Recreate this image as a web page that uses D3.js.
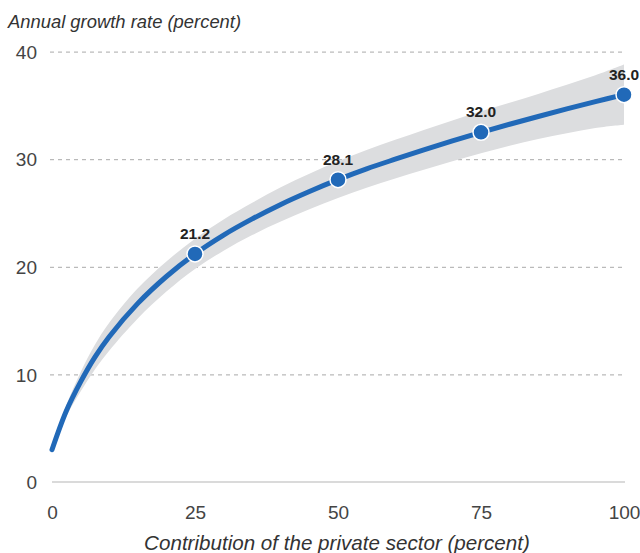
<!DOCTYPE html>
<html>
<head>
<meta charset="utf-8">
<script src="https://cdn.jsdelivr.net/npm/d3@7"></script>
<style>
  html, body { margin: 0; padding: 0; background: #fff; }
  svg { display: block; font-family: "Liberation Sans", Arial, sans-serif; }
</style>
</head>
<body>
<svg id="chart" width="640" height="553"></svg>
<script>
// ---- Data ----
const curveX     = [0, 2.5, 5, 7.5, 10, 15, 20, 25, 30, 35, 40, 45, 50, 55, 60, 65, 70, 75, 80, 85, 90, 95, 100];
const curveY     = [3.0, 6.6, 9.3, 11.6, 13.5, 16.6, 19.1, 21.2, 22.95, 24.45, 25.8, 27.0, 28.1, 29.1, 30.0, 30.87, 31.7, 32.5, 33.25, 33.97, 34.67, 35.35, 36.0];
const bandUpper  = [3.05, 7.1, 10.2, 12.75, 14.8, 18.0, 20.5, 22.6, 24.4, 25.95, 27.4, 28.65, 29.8, 30.85, 31.8, 32.72, 33.6, 34.45, 35.25, 36.07, 36.92, 37.8, 38.8];
const bandLower  = [2.95, 6.1, 8.4, 10.45, 12.2, 15.2, 17.7, 19.8, 21.5, 22.95, 24.2, 25.35, 26.4, 27.35, 28.2, 29.02, 29.8, 30.55, 31.25, 31.87, 32.42, 32.9, 33.2];
const pointX     = [25, 50, 75, 100];
const pointY     = [21.2, 28.1, 32.5, 36.0];
const pointLabel = ["21.2", "28.1", "32.0", "36.0"];
const xTicks     = [0, 25, 50, 75, 100];
const yTicks     = [0, 10, 20, 30, 40];
const yTitle     = "Annual growth rate (percent)";
const xTitle     = "Contribution of the private sector (percent)";

// ---- Layout ----
const svg = d3.select("#chart");
const x = d3.scaleLinear().domain([0, 100]).range([52, 624]);
const y = d3.scaleLinear().domain([0, 40]).range([482, 51.6]);

// Gridlines (dashed) via axis
const grid = svg.append("g")
  .attr("transform", "translate(50,0)")
  .call(d3.axisLeft(y).tickValues(yTicks.filter(d => d > 0)).tickSize(-574).tickFormat(""));
grid.select(".domain").remove();
grid.selectAll(".tick line")
  .attr("stroke", "#a9a9a9").attr("stroke-width", 1).attr("stroke-dasharray", "4,4");

// Baseline
svg.append("line")
  .attr("x1", 52).attr("x2", 625)
  .attr("y1", y(0)).attr("y2", y(0))
  .attr("stroke", "#b5b5b5").attr("stroke-width", 1.2);

// Y tick labels
const yAxis = svg.append("g")
  .attr("transform", "translate(37,0)")
  .call(d3.axisLeft(y).tickValues(yTicks).tickSize(0).tickPadding(0).tickFormat(d3.format("d")));
yAxis.select(".domain").remove();
yAxis.selectAll("text")
  .attr("font-family", "'Liberation Sans', Arial, sans-serif")
  .attr("font-size", 19).attr("fill", "#444").attr("dy", "0.35em");

// X tick labels
const xAxis = svg.append("g")
  .attr("transform", "translate(0,505)")
  .call(d3.axisBottom(x).tickValues(xTicks).tickSize(0).tickPadding(0).tickFormat(d3.format("d")));
xAxis.select(".domain").remove();
xAxis.selectAll("text")
  .attr("font-family", "'Liberation Sans', Arial, sans-serif")
  .attr("font-size", 19).attr("fill", "#444");

// Axis titles
svg.append("text")
  .attr("x", 8).attr("y", 28)
  .attr("font-style", "italic").attr("font-size", 18.4).attr("fill", "#333")
  .text(yTitle);
svg.append("text")
  .attr("x", 337).attr("y", 550).attr("text-anchor", "middle")
  .attr("font-style", "italic").attr("font-size", 20.6).attr("fill", "#333")
  .text(xTitle);

// Confidence band
const bandData = curveX.map((d, i) => ({ x: d, lo: bandLower[i], hi: bandUpper[i] }));
svg.append("path")
  .datum(bandData)
  .attr("fill", "#dcdddf")
  .attr("d", d3.area().x(d => x(d.x)).y0(d => y(d.lo)).y1(d => y(d.hi)).curve(d3.curveCatmullRom.alpha(0.5)));

// Fitted line
const lineData = curveX.map((d, i) => ({ x: d, y: curveY[i] }));
svg.append("path")
  .datum(lineData)
  .attr("fill", "none")
  .attr("stroke", "#2169b8")
  .attr("stroke-width", 5)
  .attr("stroke-linecap", "round")
  .attr("d", d3.line().x(d => x(d.x)).y(d => y(d.y)).curve(d3.curveCatmullRom.alpha(0.5)));

// Points
const pts = pointX.map((d, i) => ({ x: d, y: pointY[i], label: pointLabel[i] }));
svg.append("g").selectAll("circle").data(pts).join("circle")
  .attr("cx", d => x(d.x)).attr("cy", d => y(d.y)).attr("r", 8)
  .attr("fill", "#2169b8").attr("stroke", "#fff").attr("stroke-width", 1.5);

svg.append("g").selectAll("text").data(pts).join("text")
  .attr("x", d => x(d.x)).attr("y", d => y(d.y) - 15)
  .attr("text-anchor", "middle")
  .attr("font-size", 15.5).attr("font-weight", "bold").attr("fill", "#222")
  .text(d => d.label);
</script>
</body>
</html>
